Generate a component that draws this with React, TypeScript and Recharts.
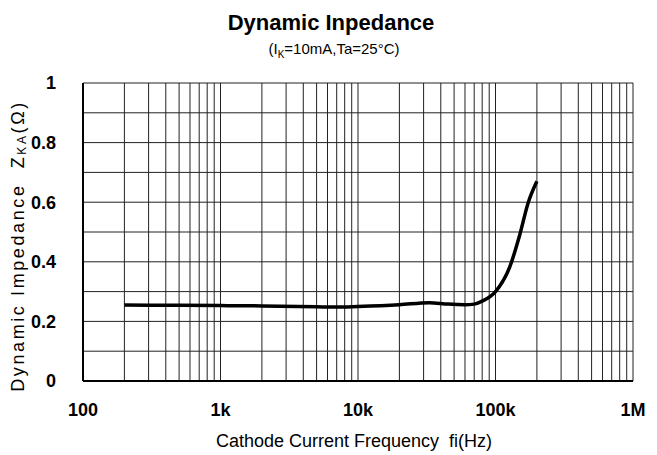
import React from 'react';
import { LineChart, Line, XAxis, YAxis, CartesianGrid, Label } from 'recharts';

const freq = [200, 500, 1000, 2000, 5000, 7000, 10000, 20000, 33000, 45000, 60000, 70000, 80000, 100000, 127000, 150000, 172000, 200000];
const impedance = [0.255, 0.254, 0.253, 0.252, 0.249, 0.248, 0.25, 0.256, 0.263, 0.258, 0.256, 0.258, 0.268, 0.3, 0.383, 0.49, 0.595, 0.67];

const xDecades = [100, 1000, 10000, 100000, 1000000];
const xDecadeLabels = ['100', '1k', '10k', '100k', '1M'];
const yTicks = [0, 0.1, 0.2, 0.3, 0.4, 0.5, 0.6, 0.7, 0.8, 0.9, 1];
const yLabels = ['0', '0.2', '0.4', '0.6', '0.8', '1'];

// minor log grid: 1..9 in each decade
const xTicks: number[] = [];
xDecades.slice(0, 4).forEach((d) => {
  for (let m = 1; m < 10; m++) xTicks.push(d * m);
});
xTicks.push(1000000);

const data = freq.map((f, i) => ({ f, z: impedance[i] }));

const fmtX = (v: number) => {
  const i = xDecades.indexOf(v);
  return i >= 0 ? xDecadeLabels[i] : '';
};

const fmtY = (v: number) => {
  const s = String(Math.round(v * 10) / 10);
  return yLabels.includes(s) ? s : '';
};

const font = '"Liberation Sans", Arial, sans-serif';

const YTitle = (props: any) => {
  const { viewBox } = props;
  const cy = viewBox.y + viewBox.height / 2 + 14;
  return (
    <text
      x={18}
      y={cy}
      transform={`rotate(-90, 18, ${cy})`}
      textAnchor="middle"
      dominantBaseline="central"
      fontFamily={font}
      fontSize={18}
      letterSpacing={2.6}
      fill="#000"
    >
      Dynamic Impedance{'\u00a0\u00a0'}Z
      <tspan fontSize={12} dy={4}>KA</tspan>
      <tspan dy={-4}>(Ω)</tspan>
    </text>
  );
};

const XTitle = (props: any) => {
  const { viewBox } = props;
  const cx = viewBox.x + viewBox.width / 2 - 4;
  return (
    <text
      x={cx}
      y={441}
      textAnchor="middle"
      dominantBaseline="central"
      fontFamily={font}
      fontSize={18}
      fill="#000"
    >
      Cathode Current Frequency{'\u00a0\u00a0'}fi(Hz)
    </text>
  );
};

const App = () => {
  return (
    <div style={{ position: 'absolute', left: 0, top: 0, width: 657, height: 455, background: '#fff' }}>
      <div
        style={{
          position: 'absolute',
          left: 0,
          width: 662,
          top: 10,
          textAlign: 'center',
          fontFamily: font,
          fontWeight: 'bold',
          fontSize: 22,
          color: '#000',
        }}
      >
        Dynamic Inpedance
      </div>
      <div
        style={{
          position: 'absolute',
          left: 0,
          width: 668,
          top: 40,
          textAlign: 'center',
          fontFamily: font,
          fontSize: 15,
          color: '#000',
        }}
      >
        (I<sub style={{ fontSize: 10 }}>K</sub>=10mA,Ta=25°C)
      </div>
      <LineChart
        width={657}
        height={455}
        data={data}
        margin={{ top: 83, right: 24, bottom: 0, left: 0 }}
      >
        <CartesianGrid stroke="#222" strokeWidth={1} />
        <XAxis
          dataKey="f"
          type="number"
          scale="log"
          domain={[100, 1000000]}
          ticks={xTicks}
          interval={0}
          tickFormatter={fmtX}
          tickLine={false}
          axisLine={{ stroke: '#000', strokeWidth: 2 }}
          tickMargin={16}
          height={74}
          tick={{ fill: '#000', fontSize: 18, fontWeight: 'bold', fontFamily: font }}
          allowDataOverflow
        >
          <Label content={<XTitle />} />
        </XAxis>
        <YAxis
          type="number"
          domain={[0, 1]}
          ticks={yTicks}
          interval={0}
          tickFormatter={fmtY}
          tickLine={false}
          axisLine={{ stroke: '#000', strokeWidth: 2 }}
          tickMargin={21}
          width={83}
          tick={{ fill: '#000', fontSize: 18, fontWeight: 'bold', fontFamily: font }}
        >
          <Label content={<YTitle />} />
        </YAxis>
        <Line
          dataKey="z"
          type="monotone"
          stroke="#000"
          strokeWidth={3.5}
          dot={false}
          isAnimationActive={false}
        />
      </LineChart>
    </div>
  );
};

export default App;
